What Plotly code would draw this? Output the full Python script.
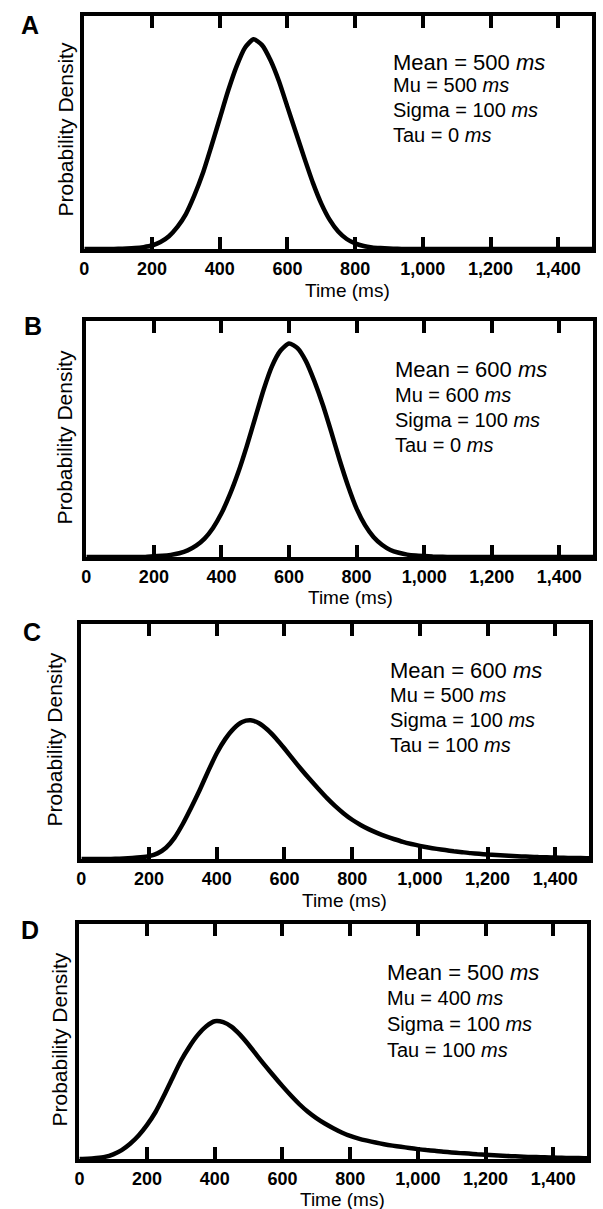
import plotly.graph_objects as go

# ---------------- data ----------------
TIME_MS = list(range(0, 1501, 25))

# relative probability density (arbitrary units, no y scale shown in the figure)
DENSITY_A = [0, 0, 0, 0, 0.001, 0.002, 0.004, 0.008, 0.015, 0.03, 0.055, 0.095, 0.15, 0.23,
             0.325, 0.44, 0.56, 0.68, 0.785, 0.865, 0.90, 0.875, 0.81, 0.72, 0.61, 0.50, 0.39,
             0.285, 0.195, 0.125, 0.075, 0.043, 0.024, 0.013, 0.007, 0.004, 0.002, 0.001,
             0, 0, 0, 0, 0, 0, 0, 0, 0, 0, 0, 0, 0, 0, 0, 0, 0, 0, 0, 0, 0, 0, 0]
DENSITY_B = [0, 0, 0, 0, 0, 0, 0, 0, 0.003, 0.005, 0.009, 0.016, 0.028, 0.048, 0.078, 0.123,
             0.185, 0.265, 0.36, 0.47, 0.59, 0.71, 0.81, 0.875, 0.905, 0.885, 0.83, 0.745, 0.645,
             0.53, 0.41, 0.30, 0.205, 0.135, 0.085, 0.052, 0.03, 0.018, 0.01, 0.006, 0.004,
             0.002, 0.001, 0, 0, 0, 0, 0, 0, 0, 0, 0, 0, 0, 0, 0, 0, 0, 0, 0, 0]
DENSITY_C = [0, 0, 0, 0, 0.001, 0.002, 0.004, 0.007, 0.012, 0.024, 0.048, 0.09, 0.15, 0.22,
             0.295, 0.375, 0.45, 0.51, 0.555, 0.583, 0.59, 0.578, 0.55, 0.513, 0.47, 0.425,
             0.381, 0.339, 0.299, 0.26, 0.225, 0.194, 0.167, 0.145, 0.126, 0.11, 0.096, 0.084,
             0.073, 0.064, 0.056, 0.049, 0.043, 0.038, 0.033, 0.029, 0.025, 0.022, 0.019, 0.017,
             0.015, 0.013, 0.011, 0.01, 0.008, 0.007, 0.006, 0.005, 0.004, 0.004, 0.003]
DENSITY_D = [0, 0.001, 0.004, 0.009, 0.02, 0.038, 0.065, 0.1, 0.145, 0.2, 0.27, 0.345, 0.418,
             0.478, 0.528, 0.565, 0.586, 0.582, 0.562, 0.528, 0.486, 0.44, 0.395, 0.352, 0.31,
             0.27, 0.233, 0.201, 0.174, 0.151, 0.131, 0.113, 0.098, 0.087, 0.078, 0.07, 0.063,
             0.057, 0.052, 0.047, 0.042, 0.038, 0.035, 0.031, 0.028, 0.025, 0.023, 0.02, 0.018,
             0.016, 0.014, 0.012, 0.011, 0.009, 0.008, 0.007, 0.006, 0.005, 0.004, 0.004, 0.003]

PANEL_LETTERS = ["A", "B", "C", "D"]
MEAN_MS = [500, 600, 600, 500]
MU_MS = [500, 600, 500, 400]
SIGMA_MS = [100, 100, 100, 100]
TAU_MS = [0, 0, 100, 100]

TICK_VALUES = [0, 200, 400, 600, 800, 1000, 1200, 1400]
TICK_LABELS = ["0", "200", "400", "600", "800", "1,000", "1,200", "1,400"]
X_TITLE = "Time (ms)"
Y_TITLE = "Probability Density"

# ---------------- layout geometry (pixels) ----------------
W, H = 603, 1209
FONT = "Liberation Sans, Arial, Helvetica, sans-serif"
# (left, right, top, bottom) of each plot box
BOXES = [(80, 592, 16, 249), (82, 593, 321, 557), (77, 589, 624, 859), (75, 587, 924, 1159)]
LETTER_POS = [(25, 25), (28, 326), (27, 632), (25, 930)]
YTITLE_POS = [(60, 130), (61, 437), (49, 740), (54, 1040)]
XTITLE_POS = [(345, 291), (348, 597), (342, 900), (340, 1199)]
PARAM_X = [389, 391, 386, 383]
PARAM_Y = [(62, 85, 110, 135), (369, 395, 420, 445), (670, 695, 720, 745), (972, 998, 1024, 1050)]

DENSITIES = [DENSITY_A, DENSITY_B, DENSITY_C, DENSITY_D]


def px(x):
    return x / W


def py(y):
    return 1 - y / H


fig = go.Figure()
annotations = []
layout_axes = {}

for i in range(4):
    n = "" if i == 0 else str(i + 1)
    l, r, t, b = BOXES[i]
    fig.add_trace(go.Scatter(
        x=TIME_MS, y=DENSITIES[i], mode="lines",
        line=dict(color="black", width=4.5, shape="spline", smoothing=0.6),
        xaxis="x" + n, yaxis="y" + n, showlegend=False, hoverinfo="skip"))
    layout_axes["xaxis" + n] = dict(
        domain=[px(l), px(r)], anchor="y" + n, range=[0, 1500],
        tickmode="array", tickvals=TICK_VALUES,
        ticktext=["<b>%s</b>" % t_ for t_ in TICK_LABELS],
        ticks="inside", ticklen=12, tickwidth=3.5, tickcolor="black",
        showline=True, linewidth=4, linecolor="black", mirror="ticks",
        showgrid=False, zeroline=False,
        tickfont=dict(family=FONT, size=18, color="black"))
    layout_axes["yaxis" + n] = dict(
        domain=[py(b), py(t)], anchor="x" + n, range=[0, 1],
        showline=True, linewidth=4, linecolor="black", mirror=True,
        showticklabels=False, ticks="", showgrid=False, zeroline=False)

    # panel letter
    lx, ly = LETTER_POS[i]
    annotations.append(dict(x=px(lx), y=py(ly), xref="paper", yref="paper",
                            text="<b>%s</b>" % PANEL_LETTERS[i], showarrow=False,
                            xanchor="center", yanchor="middle",
                            font=dict(family=FONT, size=25, color="black")))
    # y title
    yx, yy = YTITLE_POS[i]
    annotations.append(dict(x=px(yx), y=py(yy), xref="paper", yref="paper",
                            text=Y_TITLE, textangle=-90, showarrow=False,
                            xanchor="center", yanchor="middle",
                            font=dict(family=FONT, size=21, color="black")))
    # x title
    xx, xy = XTITLE_POS[i]
    annotations.append(dict(x=px(xx), y=py(xy), xref="paper", yref="paper",
                            text=X_TITLE, showarrow=False,
                            xanchor="center", yanchor="middle",
                            font=dict(family=FONT, size=19, color="black")))
    # parameter text
    lines = ["Mean = %d <i>ms</i>" % MEAN_MS[i], "Mu = %d <i>ms</i>" % MU_MS[i],
             "Sigma = %d <i>ms</i>" % SIGMA_MS[i], "Tau = %d <i>ms</i>" % TAU_MS[i]]
    sizes = [22, 20, 20, 20]
    for k in range(4):
        annotations.append(dict(x=px(PARAM_X[i]), y=py(PARAM_Y[i][k]), xref="paper", yref="paper",
                                text=lines[k], showarrow=False,
                                xanchor="left", yanchor="middle",
                                font=dict(family=FONT, size=sizes[k], color="black")))

fig.update_layout(
    width=W, height=H,
    margin=dict(l=0, r=0, t=0, b=0),
    paper_bgcolor="white", plot_bgcolor="white",
    showlegend=False,
    annotations=annotations,
    **layout_axes)

fig.write_html("out.html",
               config={"displayModeBar": False},
               post_script="document.body.style.margin='0px';document.body.style.overflow='hidden';")
